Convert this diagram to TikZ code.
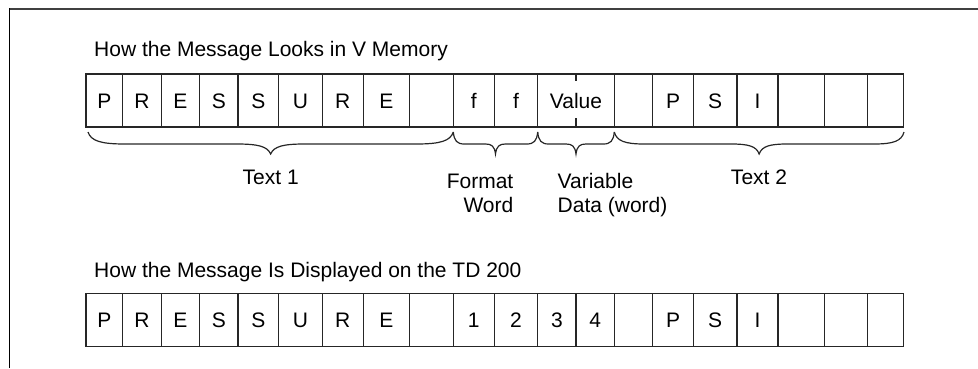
\documentclass[tikz,border=0pt]{standalone}
\usepackage{fontspec}
\setmainfont{Liberation Sans}
\tikzset{
  cell/.style={draw=black!85, line width=1.3pt, rectangle, inner sep=0pt,
    minimum height=53pt, text height=15pt, text depth=0pt, anchor=center},
  brc/.style={draw=black!85, line width=1.2pt},
  lbl/.style={inner sep=0pt},
}
\newcommand\mybrc[4]{% x1, x2, c1 (end curl), c2 (middle curl)
  \draw[brc] (#1,132) .. controls ({#1+0.08*#3},141) and ({#1+0.35*#3},144) .. ({#1+#3},144)
    -- ({(#1+#2)/2-#4},144) .. controls ({(#1+#2)/2-0.4*#4},144) and ({(#1+#2)/2-0.1*#4},146) .. ({(#1+#2)/2},154)
    .. controls ({(#1+#2)/2+0.1*#4},146) and ({(#1+#2)/2+0.4*#4},144) .. ({(#1+#2)/2+#4},144)
    -- ({#2-#3},144) .. controls ({#2-0.35*#3},144) and ({#2-0.08*#3},141) .. (#2,132);}
\begin{document}
\begin{tikzpicture}[x=1pt,y=-1pt, font=\fontsize{21}{24}\selectfont]
\useasboundingbox (0,0) rectangle (978,368);
% frame
\draw[black!75, line width=1.6pt] (9.3,9) -- (978,9);
\draw[black, line width=1.3pt] (9.3,368) -- (9.3,8.3);
% titles
\node[lbl, anchor=base west] (title1) at (94,56.7) {How the Message Looks in V Memory};
\node[lbl, anchor=base west] (title2) at (94,277.3) {How the Message Is Displayed on the TD 200};
% top row
\foreach \a/\b/\t [count=\i] in {86/122.7/P,122.7/161.3/R,161.3/199.7/E,199.7/238/S,238/278.7/S,278.7/322.3/U,322.3/363.3/R,363.3/409.3/E,409.3/453.3/{},453.3/494.3/f,494.3/537.7/f,537.7/614.3/Value,614.3/652.7/{},652.7/693.3/P,693.3/737/S,737/778/I,778/824.3/{},824.3/867.7/{},867.7/903.3/{}}
  \node[cell, minimum width={(\b-\a)*1pt}] (t\i) at ({(\a+\b)/2},100.5) {\t};
\draw[brc] (t12.north) -- ++(0,8);
\draw[brc] (t12.south) -- ++(0,-10);
% bottom row
\foreach \a/\b/\t [count=\i] in {86/122.7/P,122.7/161.3/R,161.3/199.7/E,199.7/238/S,238/278.7/S,278.7/322.3/U,322.3/363.3/R,363.3/409.3/E,409.3/453.3/{},453.3/494.3/1,494.3/537.7/2,537.7/576/3,576/614.3/4,614.3/652.7/{},652.7/693.3/P,693.3/737/S,737/778/I,778/824.3/{},824.3/867.7/{},867.7/903.3/{}}
  \node[cell, minimum width={(\b-\a)*1pt}] (b\i) at ({(\a+\b)/2},320) {\t};
% braces
\mybrc{88}{453.3}{37}{34}
\mybrc{453.3}{537.7}{11}{10}
\mybrc{537.7}{614.3}{11}{10}
\mybrc{614.3}{904}{30}{28}
% labels
\node[lbl, anchor=base] (text1) at (270.7,184) {Text 1};
\node[lbl, anchor=base] (text2) at (759,184) {Text 2};
\node[lbl, anchor=base east, align=right] (fmt) at (513.5,212.3) {Format\\Word};
\node[lbl, anchor=base west, align=left] (var) at (557.5,212.3) {Variable\\Data (word)};
\end{tikzpicture}
\end{document}
